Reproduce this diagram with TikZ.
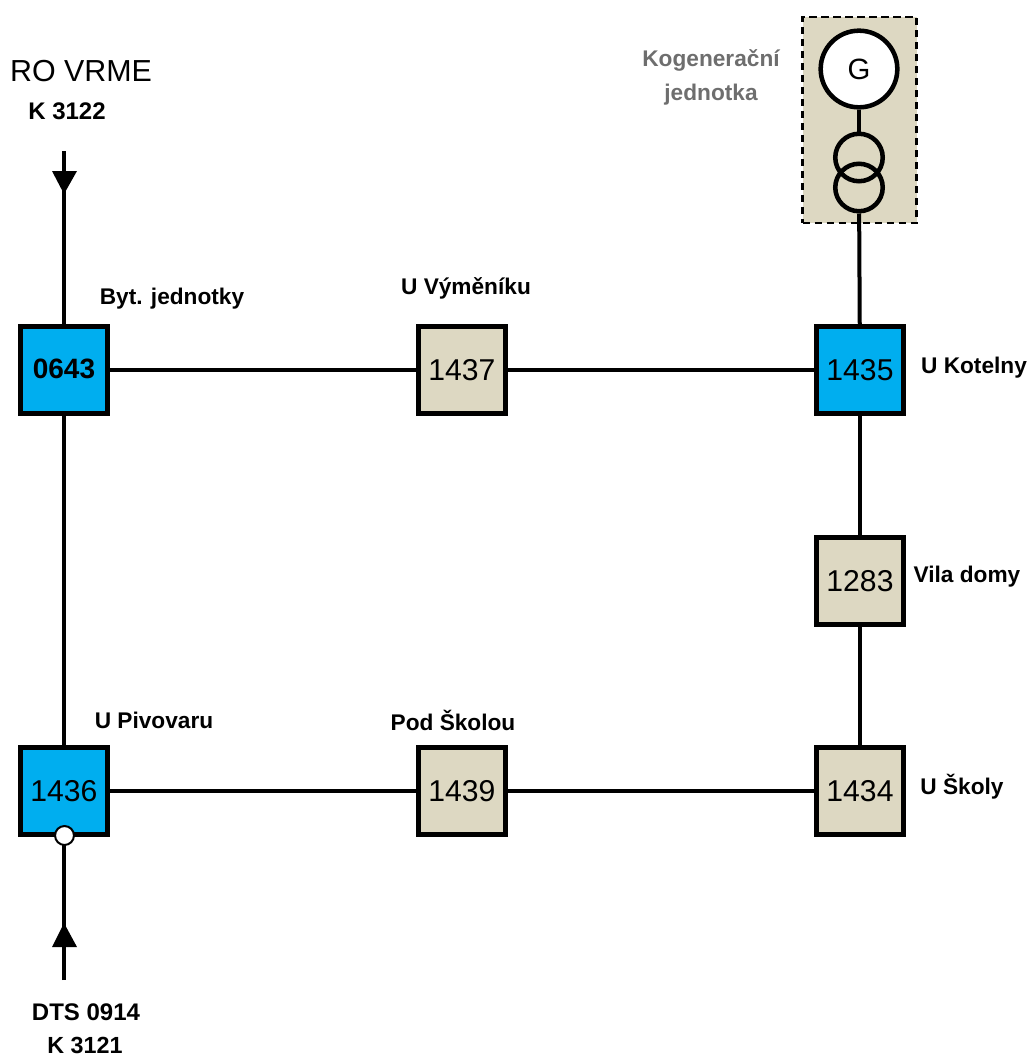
\documentclass[tikz,border=0pt]{standalone}
\usepackage{fontspec}
\setmainfont{Liberation Sans}
\definecolor{stationblue}{RGB}{0,174,239}
\definecolor{stationtan}{RGB}{221,216,194}
\definecolor{labelgrey}{RGB}{110,110,110}

\begin{document}
\begin{tikzpicture}[
  x=0.75pt, y=-0.75pt,
  station/.style={draw=black, fill=#1, line width=3.6pt, minimum size=65.4pt, inner sep=0pt, font=\fontsize{22.6}{26}\selectfont},
  feeder/.style={draw=black, line width=3pt},
  ring/.style={draw=black, line width=3.4pt, circle, inner sep=0pt},
  label/.style={font=\bfseries\fontsize{17}{26}\selectfont, align=center},
]
  \useasboundingbox (0,0) rectangle (1028,1057);

  % cogeneration unit
  \node[draw=black, fill=stationtan, dash pattern=on 5.5pt off 3.5pt, line width=2pt, minimum width=85.5pt, minimum height=154.5pt, inner sep=0pt] (unit) at (859.5,120) {};

  \node[station=stationblue] (s0643) at (64,370) {\raisebox{2pt}{\fontsize{21}{24}\selectfont\bfseries 0643}};
  \node[station=stationtan] (s1437) at (462,370) {1437};
  \node[station=stationblue] (s1435) at (860,370) {1435};
  \node[station=stationtan] (s1283) at (860,581) {1283};
  \node[station=stationblue] (s1436) at (64,791) {1436};
  \node[station=stationtan] (s1439) at (462,791) {1439};
  \node[station=stationtan] (s1434) at (860,791) {1434};

  \node[ring, fill=white, minimum size=57.5pt, font=\fontsize{22}{26}\selectfont] (gen) at (859,69) {G};
  \node[ring, minimum size=35.6pt] (tr1) at (859,157.5) {};
  \node[ring, minimum size=35.6pt] (tr2) at (859,187.5) {};

  \coordinate (in1) at (64,151);
  \coordinate (in2) at (64,980);

  % lines
  \draw[feeder] (gen) -- (tr1);
  \draw[feeder] (tr2) -- (s1435);
  \draw[feeder] (s0643) -- (s1437);
  \draw[feeder] (s1437) -- (s1435);
  \draw[feeder] (s1435) -- (s1283);
  \draw[feeder] (s1283) -- (s1434);
  \draw[feeder] (s1436) -- (s1439);
  \draw[feeder] (s1439) -- (s1434);
  \draw[feeder] (s0643) -- (s1436);
  \draw[feeder] (in1) -- (s0643);
  \draw[feeder] (in2) -- (s1436);

  % arrows on the incoming lines
  \fill (52,171) -- (77,171) -- (64,194) -- cycle;
  \fill (52,947) -- (77,947) -- (64,923) -- cycle;

  \node[draw=black, fill=white, circle, line width=1.5pt, minimum size=14.2pt, inner sep=0pt] (tap) at (64.5,835.5) {};

  \node[font=\fontsize{22.8}{26}\selectfont] (ro) at (81,71) {RO VRME};
  \node[label, font=\bfseries\fontsize{18}{26}\selectfont] (k3122) at (67,111) {K 3122};
  \node[label] (byt) at (172,299) {Byt. jednotky};
  \node[label] (vym) at (466,288) {U Výměníku};
  \node[label] (kot) at (974,368) {U Kotelny};
  \node[label] (vila) at (967,577) {Vila domy};
  \node[label] (piv) at (154,720) {U Pivovaru};
  \node[label] (pod) at (453,720) {Pod Školou};
  \node[label] (sko) at (962,787) {U Školy};
  \node[label, font=\bfseries\fontsize{18}{26}\selectfont] (dts) at (86,1012) {DTS 0914};
  \node[label, font=\bfseries\fontsize{17.5}{26}\selectfont] (k3121) at (85,1045) {K 3121};
  \node[label, text=labelgrey] (kog) at (711,77.5) {Kogenerační\\jednotka};
\end{tikzpicture}
\end{document}
